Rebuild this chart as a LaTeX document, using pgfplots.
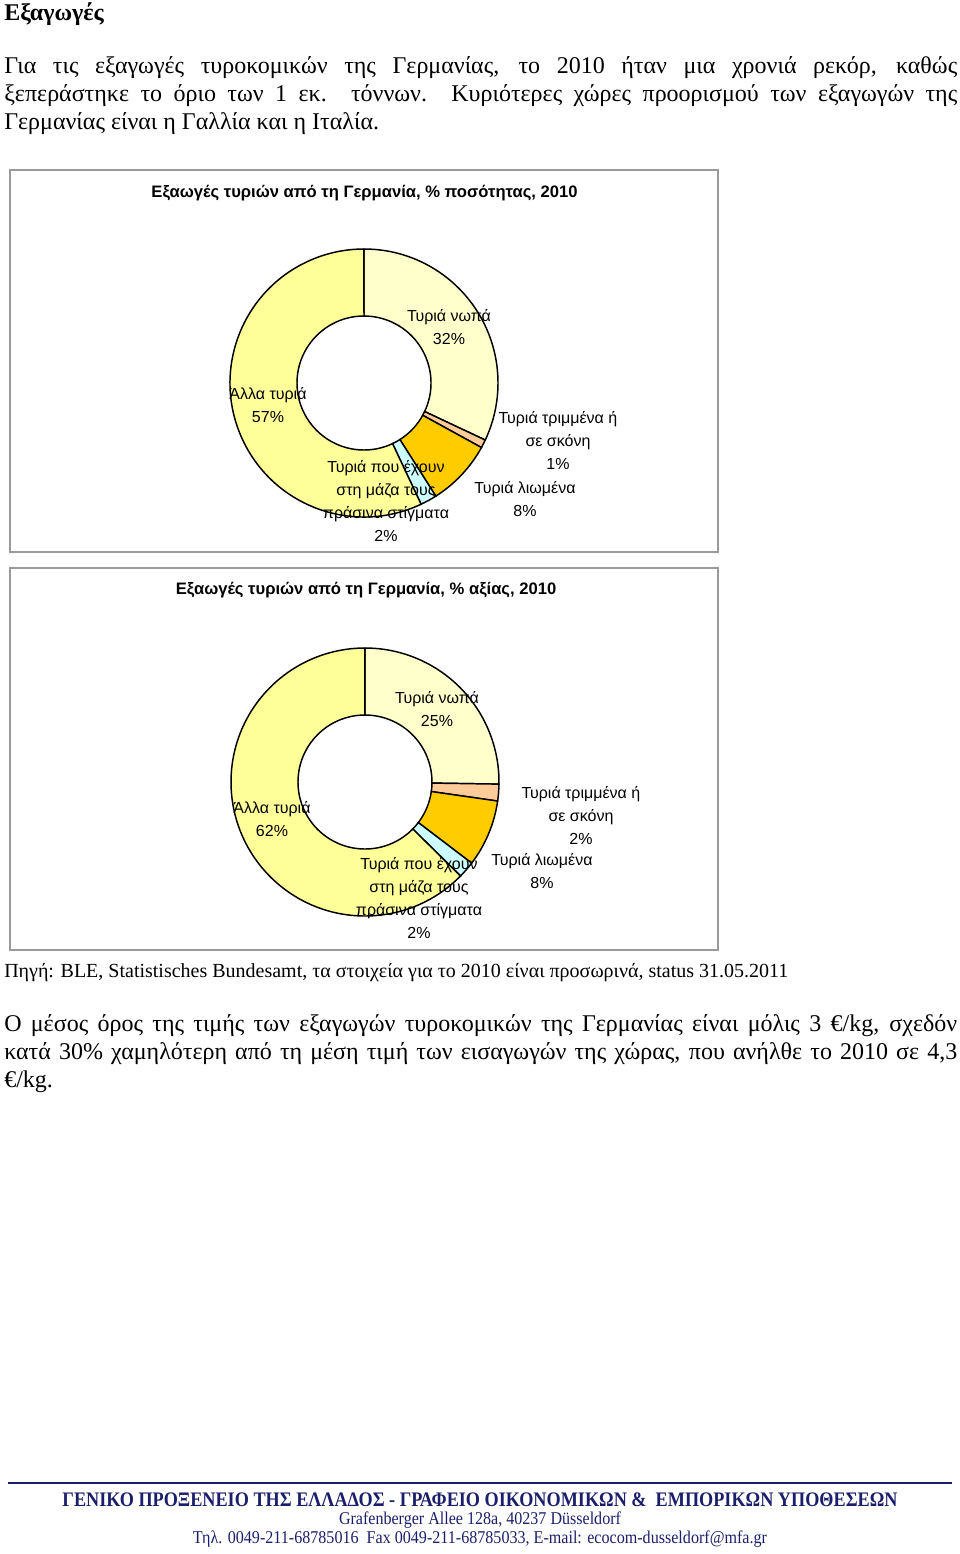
\documentclass[border=0pt]{standalone}
\usepackage{pgfplots}
\pgfplotsset{compat=1.18}
\usepackage{pgfplotstable}
\usepackage{graphicx}
\usepackage{fontspec}
\setmainfont{Liberation Serif}
\newfontfamily\arial{Liberation Sans}

\newlength\px \setlength\px{0.75pt}

\definecolor{nwpa}{HTML}{FFFFCC}
\definecolor{trimmena}{HTML}{FFCC99}
\definecolor{liwmena}{HTML}{FFCC00}
\definecolor{prasina}{HTML}{CCFFFF}
\definecolor{alla}{HTML}{FFFF99}
\definecolor{framegray}{HTML}{9A9A9A}
\definecolor{navy}{HTML}{1B1F6B}

% shares, in clockwise order from 12 o'clock
\pgfplotstableread{
share fill
32 nwpa
1  trimmena
8  liwmena
2  prasina
57 alla
}\qtytable

\pgfplotstableread{
share fill
25 nwpa
2  trimmena
8  liwmena
2  prasina
62 alla
}\valtable

% #1 table, #2 outer radius, #3 inner radius (px)
\newcommand\donut[3]{%
  \pgfplotstablegetrowsof{#1}%
  \pgfmathtruncatemacro\nrows{\pgfplotsretval-1}%
  \xdef\slsum{0}%
  \foreach \i in {0,...,\nrows}{%
    \pgfplotstablegetelem{\i}{share}\of{#1}%
    \pgfmathsetmacro\sltmp{\slsum+\pgfplotsretval}%
    \xdef\slsum{\sltmp}}%
  \xdef\slang{90}%
  \pgfmathsetlengthmacro\Ro{#2*0.75}%
  \pgfmathsetlengthmacro\Ri{#3*0.75}%
  \foreach \i in {0,...,\nrows}{%
    \pgfplotstablegetelem{\i}{share}\of{#1}\let\slval\pgfplotsretval
    \pgfplotstablegetelem{\i}{fill}\of{#1}\let\slcol\pgfplotsretval
    \pgfmathsetmacro\slend{\slang-\slval/\slsum*360}%
    \edef\temp{\noexpand\filldraw[fill=\slcol, draw=black, line width=1.1pt,
        shift={(axis cs:0,0)}]
      (\slang:\Ro) arc[start angle=\slang, end angle=\slend, radius=\Ro]
      -- (\slend:\Ri) arc[start angle=\slend, end angle=\slang, radius=\Ri] -- cycle;}%
    \temp
    \xdef\slang{\slend}}%
}

\newcommand\body{\fontsize{18}{21}\selectfont}
\newcommand\lbl{\arial\fontsize{12}{17.25}\selectfont}
\tikzset{lab/.style={align=center, inner sep=0, font=\lbl}}

\begin{document}
\begin{tikzpicture}[x=0.75pt, y=0.75pt]
\useasboundingbox (0,0) rectangle (960,-1554);

% text above the charts
\node[anchor=base west, inner sep=0] at (4,-20) {\body\bfseries Εξαγωγές};
\node[anchor=base west, inner sep=0] at (4,-73) {\body\makebox[953\px][s]{Για τις εξαγωγές τυροκομικών της Γερμανίας, το 2010 ήταν μια χρονιά ρεκόρ, καθώς}};
\node[anchor=base west, inner sep=0] at (4,-101) {\body\makebox[953\px][s]{ξεπεράστηκε το όριο των 1 εκ. τόννων. Κυριότερες χώρες προορισμού των εξαγωγών της}};
\node[anchor=base west, inner sep=0] at (4,-129) {\body Γερμανίας είναι η Γαλλία και η Ιταλία.};

% chart 1: quantity
\draw[framegray, line width=1pt] (10,-170) rectangle (718,-552);
\node[anchor=base, inner sep=0] at (364.5,-197) {\arial\fontsize{12.45}{14}\selectfont\bfseries Εξαωγές τυριών από τη Γερμανία, \% ποσότητας, 2010};
\begin{axis}[at={(364,-383)}, anchor=origin, x=0.75pt, y=0.75pt,
    xmin=-140, xmax=140, ymin=-140, ymax=140, hide axis, clip=false]
\donut{\qtytable}{134}{67}
\end{axis}
\node[lab] at (449,-327) {Τυριά νωπά\\32\%};
\node[lab] at (268,-405) {Άλλα τυριά\\57\%};
\node[lab] at (558,-441) {Τυριά τριμμένα ή\\σε σκόνη\\1\%};
\node[lab] at (525,-499) {Τυριά λιωμένα\\8\%};
\node[lab] at (386,-501) {Τυριά που έχουν\\στη μάζα τους\\πράσινα στίγματα\\2\%};

% chart 2: value
\draw[framegray, line width=1pt] (10,-568) rectangle (718,-950);
\node[anchor=base, inner sep=0] at (366,-594) {\arial\fontsize{12.45}{14}\selectfont\bfseries Εξαωγές τυριών από τη Γερμανία, \% αξίας, 2010};
\begin{axis}[at={(365,-782)}, anchor=origin, x=0.75pt, y=0.75pt,
    xmin=-140, xmax=140, ymin=-140, ymax=140, hide axis, clip=false]
\donut{\valtable}{134}{67}
\end{axis}
\node[lab] at (437,-709) {Τυριά νωπά\\25\%};
\node[lab] at (272,-819) {Άλλα τυριά\\62\%};
\node[lab] at (581,-816) {Τυριά τριμμένα ή\\σε σκόνη\\2\%};
\node[lab] at (542,-871) {Τυριά λιωμένα\\8\%};
\node[lab] at (419,-898) {Τυριά που έχουν\\στη μάζα τους\\πράσινα στίγματα\\2\%};

% source and closing paragraph
\node[anchor=base west, inner sep=0] at (4,-977) {\fontsize{15}{17}\selectfont Πηγή: BLE, Statistisches Bundesamt, τα στοιχεία για το 2010 είναι προσωρινά, status 31.05.2011};
\node[anchor=base west, inner sep=0] at (4,-1031) {\body\makebox[953\px][s]{Ο μέσος όρος της τιμής των εξαγωγών τυροκομικών της Γερμανίας είναι μόλις 3 €/kg, σχεδόν}};
\node[anchor=base west, inner sep=0] at (4,-1059) {\body\makebox[953\px][s]{κατά 30\% χαμηλότερη από τη μέση τιμή των εισαγωγών της χώρας, που ανήλθε το 2010 σε 4,3}};
\node[anchor=base west, inner sep=0] at (4,-1087) {\body €/kg.};

% footer
\draw[navy, line width=1.6pt] (8,-1483) -- (952,-1483);
\node[anchor=base, inner sep=0, navy] at (480,-1506) {\resizebox{835\px}{\height}{\fontsize{15.5}{18}\selectfont\bfseries ΓΕΝΙΚΟ ΠΡΟΞΕΝΕΙΟ ΤΗΣ ΕΛΛΑΔΟΣ - ΓΡΑΦΕΙΟ ΟΙΚΟΝΟΜΙΚΩΝ \& \ ΕΜΠΟΡΙΚΩΝ ΥΠΟΘΕΣΕΩΝ}};
\node[anchor=base, inner sep=0, navy] at (480,-1524) {\resizebox{282\px}{\height}{\fontsize{13.5}{16}\selectfont Grafenberger Allee 128a, 40237 Düsseldorf}};
\node[anchor=base, inner sep=0, navy] at (480,-1543) {\resizebox{574\px}{\height}{\fontsize{13.5}{16}\selectfont Τηλ. 0049-211-68785016 \ Fax 0049-211-68785033, E-mail: ecocom-dusseldorf@mfa.gr}};
\end{tikzpicture}
\end{document}
